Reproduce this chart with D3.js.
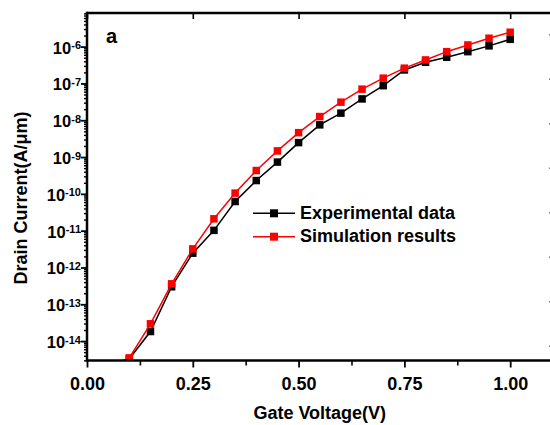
<!DOCTYPE html>
<html><head><meta charset="utf-8">
<script src="https://cdn.jsdelivr.net/npm/d3@7"></script>
<style>body{margin:0;background:#fff}svg{display:block}text{font-family:"Liberation Sans",Arial,sans-serif;font-weight:bold;fill:#000}</style>
</head><body>
<svg id="chart" width="550" height="425"></svg>
<script>
// ---- data ----
const gateVoltage = [0.05,0.10,0.15,0.20,0.25,0.30,0.35,0.40,0.45,0.50,0.55,0.60,0.65,0.70,0.75,0.80,0.85,0.90,0.95,1.00];
const experimental = [1.9e-15,3.3e-15,1.82e-14,3.0e-13,2.45e-12,1.02e-11,6.2e-11,2.3e-10,7.3e-10,2.47e-9,7.5e-9,1.56e-8,3.8e-8,8.7e-8,2.33e-7,3.77e-7,5.15e-7,7.3e-7,1.05e-6,1.58e-6];
const simulation   = [2.0e-15,3.5e-15,2.95e-14,3.6e-13,3.2e-12,2.1e-11,1.05e-10,4.3e-10,1.47e-9,4.6e-9,1.26e-8,3.1e-8,7.0e-8,1.39e-7,2.6e-7,4.35e-7,7.3e-7,1.11e-6,1.69e-6,2.46e-6];
const seriesNames = ["Experimental data","Simulation results"];
const seriesColors = ["#000000","#ff0000"];
const xTickValues = [0,0.25,0.5,0.75,1.0];
const xMinorTickValues = [0.125,0.375,0.625,0.875,1.125];
const yTickExponents = [-14,-13,-12,-11,-10,-9,-8,-7,-6];
const xTitle = "Gate Voltage(V)";
const yTitle = "Drain Current(A/\u03bcm)";
const panelLabel = "a";
const neighbourTickValues = [0.5,1,1.5,2,2.5,3,3.5,4,4.5,5,5.5,6,6.5,7,7.5];

// ---- layout ----
const L = 87, T = 13, B = 360.5, R = 552.5;
const svg = d3.select("#chart");
const x = d3.scaleLinear().domain([0, 1.1]).range([L, R]);
const y = d3.scaleLog().domain([2.97e-15, 8.2e-6]).range([B, T]);

svg.append("rect").attr("width",550).attr("height",425).attr("fill","#fff");

// clip
svg.append("clipPath").attr("id","clip").append("rect")
  .attr("x",L).attr("y",T).attr("width",R-L).attr("height",B-T);

// bottom axis (outward ticks)
const gB = svg.append("g").attr("transform",`translate(0,${B})`);
gB.call(d3.axisBottom(x).tickValues(xMinorTickValues).tickSize(5).tickFormat(""));
gB.call(g=>g.selectAll(".tick line").attr("stroke-width",1.6));
const gB2 = svg.append("g").attr("transform",`translate(0,${B})`);
gB2.call(d3.axisBottom(x).tickValues(xTickValues).tickSize(7).tickPadding(5).tickFormat(d3.format(".2f")));
gB2.selectAll(".tick line").attr("stroke-width",1.8);
gB2.selectAll(".tick text").attr("font-size",18).attr("font-family",null).attr("dy","0.95em");
svg.selectAll(".domain").remove();

// top axis (inward ticks)
const gT = svg.append("g").attr("transform",`translate(0,${T})`);
gT.call(d3.axisTop(x).tickValues(xMinorTickValues).tickSize(-4).tickFormat(""));
gT.call(d3.axisTop(x).tickValues(xTickValues).tickSize(-6).tickFormat(""));
gT.selectAll(".tick line").attr("stroke-width",1.6);
gT.selectAll(".domain").remove();

// left axis minor ticks
const minorVals = [];
yTickExponents.concat([-15,-5]).forEach(e=>{ for(let m=2;m<=9;m++){ const v=m*Math.pow(10,e); if(v>=y.domain()[0]&&v<=y.domain()[1]) minorVals.push(v);} });
const gLm = svg.append("g").attr("transform",`translate(${L},0)`);
gLm.call(d3.axisLeft(y).tickValues(minorVals).tickSize(3).tickFormat(""));
gLm.selectAll(".tick line").attr("stroke-width",1.4);
gLm.selectAll(".domain").remove();
const gL = svg.append("g").attr("transform",`translate(${L},0)`);
gL.call(d3.axisLeft(y).tickValues(yTickExponents.map(e=>Math.pow(10,e))).tickSize(6).tickFormat(""));
gL.selectAll(".tick line").attr("stroke-width",1.8);
gL.selectAll(".domain").remove();
// superscript labels
yTickExponents.forEach(e=>{
  const t = svg.append("text").attr("x",L-6).attr("y",y(Math.pow(10,e))+7).attr("text-anchor","end");
  t.append("tspan").attr("font-size",16.5).text("10");
  t.append("tspan").attr("font-size",11).attr("dy",-4.5).text(String(e));
});

// neighbouring panel ticks at right edge
const yN = d3.scaleLinear().domain([0,8]).range([12,368]);
const gN = svg.append("g").attr("transform","translate(551,0)");
gN.call(d3.axisLeft(yN).tickValues(neighbourTickValues.filter(v=>v%1===0)).tickSize(4).tickFormat(""));
gN.call(d3.axisLeft(yN).tickValues(neighbourTickValues.filter(v=>v%1!==0)).tickSize(1.5).tickFormat(""));
gN.selectAll(".tick line").attr("stroke-width",1.6);
gN.selectAll(".domain").remove();

// series
const series = [experimental, simulation];
const plot = svg.append("g").attr("clip-path","url(#clip)");
const line = d3.line().x((d,i)=>x(gateVoltage[i])).y(d=>y(d));
const ms = 7.5;
series.forEach((vals,si)=>{
  plot.append("path").datum(vals).attr("d",line).attr("fill","none")
    .attr("stroke",seriesColors[si]).attr("stroke-width",1.5);
  plot.selectAll(null).data(vals).enter().append("rect")
    .attr("x",(d,i)=>x(gateVoltage[i])-ms/2).attr("y",d=>y(d)-ms/2)
    .attr("width",ms).attr("height",ms).attr("fill",seriesColors[si]);
});

// frame
svg.append("line").attr("x1",L).attr("x2",550).attr("y1",T).attr("y2",T).attr("stroke","#000").attr("stroke-width",2.5);
svg.append("line").attr("x1",L).attr("x2",550).attr("y1",B).attr("y2",B).attr("stroke","#000").attr("stroke-width",2.5);
svg.append("line").attr("x1",L).attr("x2",L).attr("y1",T-1.2).attr("y2",B+1.2).attr("stroke","#000").attr("stroke-width",2.5);

// legend
const lg = svg.append("g");
seriesNames.forEach((name,i)=>{
  const cy = 213.3 + i*23.4;
  lg.append("line").attr("x1",253).attr("x2",295).attr("y1",cy).attr("y2",cy).attr("stroke",seriesColors[i]).attr("stroke-width",1.5);
  lg.append("rect").attr("x",274-4).attr("y",cy-4).attr("width",8).attr("height",8).attr("fill",seriesColors[i]);
  lg.append("text").attr("x",300).attr("y",cy+5.3).attr("font-size",18).text(name);
});

// titles
svg.append("text").attr("x",(L+R)/2).attr("y",419).attr("text-anchor","middle").attr("font-size",18).text(xTitle);
svg.append("text").attr("transform","translate(27,198) rotate(-90)").attr("text-anchor","middle").attr("font-size",18).text(yTitle);
svg.append("text").attr("x",106).attr("y",43).attr("font-size",20).text(panelLabel);
</script>
</body></html>
